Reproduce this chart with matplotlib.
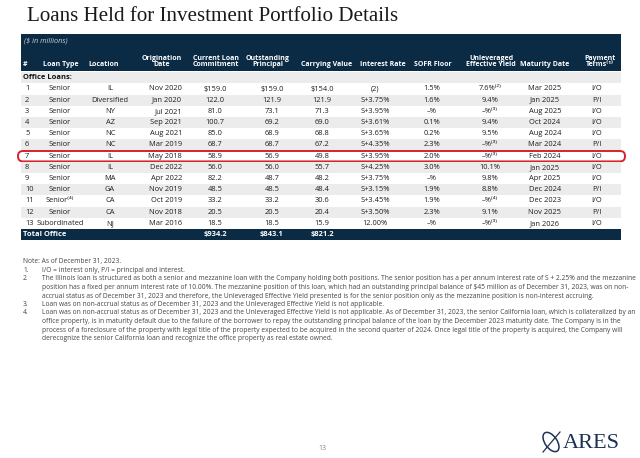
import matplotlib.pyplot as plt
from matplotlib.patches import Rectangle, FancyBboxPatch, Ellipse

plt.rcParams['font.family'] = ['Open Sans', 'DejaVu Sans']

# table data
row_num = ['1', '2', '3', '4', '5', '6', '7', '8', '9', '10', '11', '12', '13']
loan_type = ['Senior'] * 10 + ['Senior⁽⁴⁾', 'Senior', 'Subordinated']
location = ['IL', 'Diversified', 'NY', 'AZ', 'NC', 'NC', 'IL', 'IL', 'MA', 'GA', 'CA', 'CA', 'NJ']
orig_date = ['Nov 2020', 'Jan 2020', 'Jul 2021', 'Sep 2021', 'Aug 2021', 'Mar 2019', 'May 2018',
             'Dec 2022', 'Apr 2022', 'Nov 2019', 'Oct 2019', 'Nov 2018', 'Mar 2016']
commitment = [159.0, 122.0, 81.0, 100.7, 85.0, 68.7, 58.9, 56.0, 82.2, 48.5, 33.2, 20.5, 18.5]
principal = [159.0, 121.9, 73.1, 69.2, 68.9, 68.7, 56.9, 56.0, 48.7, 48.5, 33.2, 20.5, 18.5]
carrying = [154.0, 121.9, 71.3, 69.0, 68.8, 67.2, 49.8, 55.7, 48.2, 48.4, 30.6, 20.4, 15.9]
rate = ['(2)', 'S+3.75%', 'S+3.95%', 'S+3.61%', 'S+3.65%', 'S+4.35%', 'S+3.95%',
        'S+4.25%', 'S+3.75%', 'S+3.15%', 'S+3.45%', 'S+3.50%', '12.00%']
sofr_floor = ['1.5%', '1.6%', '–%', '0.1%', '0.2%', '2.3%', '2.0%', '3.0%', '–%', '1.9%',
              '1.9%', '2.3%', '–%']
eff_yield = ['7.6%⁽²⁾', '9.4%', '–%⁽³⁾', '9.4%', '9.5%', '–%⁽³⁾', '–%⁽³⁾', '10.1%', '9.8%',
             '8.8%', '–%⁽⁴⁾', '9.1%', '–%⁽³⁾']
maturity = ['Mar 2025', 'Jan 2025', 'Aug 2025', 'Oct 2024', 'Aug 2024', 'Mar 2024', 'Feb 2024',
            'Jan 2025', 'Apr 2025', 'Dec 2024', 'Dec 2023', 'Nov 2025', 'Jan 2026']
terms = ['I/O', 'P/I', 'I/O', 'I/O', 'I/O', 'P/I', 'I/O', 'I/O', 'I/O', 'P/I', 'I/O', 'P/I', 'I/O']
highlight_row = 7

headers = ['#', 'Loan Type', 'Location', 'Origination\nDate', 'Current Loan\nCommitment',
           'Outstanding\nPrincipal', 'Carrying Value', 'Interest Rate', 'SOFR Floor',
           'Unleveraged\nEffective Yield', 'Maturity Date', 'Payment\nTerms⁽¹⁾']

notes = [
    ('', ['Note: As of December 31, 2023.']),
    ('1.', ['I/O = interest only, P/I = principal and interest.']),
    ('2.', ['The Illinois loan is structured as both a senior and mezzanine loan with the Company holding both positions. The senior position has a per annum interest rate of S + 2.25% and the mezzanine',
            'position has a fixed per annum interest rate of 10.00%. The mezzanine position of this loan, which had an outstanding principal balance of $45 million as of December 31, 2023, was on non-',
            'accrual status as of December 31, 2023 and therefore, the Unleveraged Effective Yield presented is for the senior position only as the mezzanine position is non-interest accruing.']),
    ('3.', ['Loan was on non-accrual status as of December 31, 2023 and the Unleveraged Effective Yield is not applicable.']),
    ('4.', ['Loan was on non-accrual status as of December 31, 2023 and the Unleveraged Effective Yield is not applicable. As of December 31, 2023, the senior California loan, which is collateralized by an',
            'office property, is in maturity default due to the failure of the borrower to repay the outstanding principal balance of the loan by the December 2023 maturity date. The Company is in the',
            'process of a foreclosure of the property with legal title of the property expected to be acquired in the second quarter of 2024. Once legal title of the property is acquired, the Company will',
            'derecognize the senior California loan and recognize the office property as real estate owned.']),
]

navy = '#0b2a44'
band = '#ececec'
txt = '#1e1e1e'
fs = 5.4
hfs = 5.0

fig = plt.figure(figsize=(6.4, 4.58), dpi=100)
ax = fig.add_axes([0, 0, 1, 1])
ax.set_xlim(0, 640)
ax.set_ylim(458, 0)
ax.axis('off')

ax.text(27, 16.5, 'Loans Held for Investment Portfolio Details', fontsize=15.1,
        family='Liberation Serif', color='#1a1a1a', va='center', ha='left')

left, right = 21, 621
ax.add_patch(Rectangle((left, 34), right - left, 37, color=navy, lw=0))
ax.text(24, 41, '($ in millions)', fontsize=5.3, style='italic', color='#c5cfda', va='center')

# column positions: headers and values
head_x = [23, 61, 104, 182, 216, 268, 327, 383, 433, 491, 545, 600]
col_x = [25, 60, 110, 182, 215, 272, 322, 375, 432, 490, 545, 597]
col_ha = ['left', 'center', 'center', 'right', 'center', 'center', 'center', 'center',
          'center', 'center', 'center', 'center']
for h, x, ha in zip(headers, head_x, col_ha):
    ax.text(x, 66.5, h, fontsize=hfs, fontweight='bold', color='white', ha=ha, va='baseline',
            multialignment='center', linespacing=1.0, parse_math=False)

row_h = 11.2
y0 = 77.8
ax.add_patch(Rectangle((left, y0 - row_h / 2), right - left, row_h, color=band, lw=0))
ax.text(23, y0, 'Office Loans:', fontsize=fs, fontweight='bold', color='#111111', va='center')

for i in range(len(row_num)):
    y = y0 + row_h * (i + 1)
    if i % 2 == 1:
        ax.add_patch(Rectangle((left, y - row_h / 2), right - left, row_h, color=band, lw=0))
    dollar = '$' if i == 0 else ''
    vals = [row_num[i], loan_type[i], location[i], orig_date[i],
            f'{dollar}{commitment[i]:.1f}', f'{dollar}{principal[i]:.1f}', f'{dollar}{carrying[i]:.1f}',
            rate[i], sofr_floor[i], eff_yield[i], maturity[i], terms[i]]
    for v, x, ha in zip(vals, col_x, col_ha):
        ax.text(x, y, v, fontsize=fs, color=txt, ha=ha, va='center', parse_math=False)
    if row_num[i] == str(highlight_row):
        ax.add_patch(FancyBboxPatch((18, y - 5.2), 607, 10.4,
                                    boxstyle='round,pad=0,rounding_size=5',
                                    fill=False, ec='#d8232a', lw=1.4))

yt = y0 + row_h * (len(row_num) + 1)
ax.add_patch(Rectangle((left, yt - row_h / 2), right - left, row_h, color=navy, lw=0))
ax.text(23, yt, 'Total Office', fontsize=fs, fontweight='bold', color='white', va='center')
for v, x in zip([sum(commitment), sum(principal), sum(carrying)], col_x[4:7]):
    ax.text(x, yt, f'${v:.1f}', fontsize=fs, fontweight='bold', color='white',
            ha='center', va='center', parse_math=False)

# footnotes
ny = 262
for num, lines in notes:
    if num:
        ax.text(23, ny, num, fontsize=4.75, color='#444444', va='center')
    for line in lines:
        ax.text(23 if not num else 42, ny, line, fontsize=4.75, color='#444444', va='center',
                parse_math=False)
        ny += 8.5

ax.text(322, 449, '13', fontsize=5, color='#888888', ha='center', va='center')

# logo
ax.add_patch(Ellipse((551, 442), 12, 22, angle=-35, fill=False, ec='#1c3355', lw=1.1))
ax.plot([543, 560], [452, 432], color='#1c3355', lw=0.9)
ax.text(563, 443, 'ARES', fontsize=16, family='Liberation Serif', color='#1c3355',
        va='center', ha='left')

fig.savefig('out.png', dpi=100)
